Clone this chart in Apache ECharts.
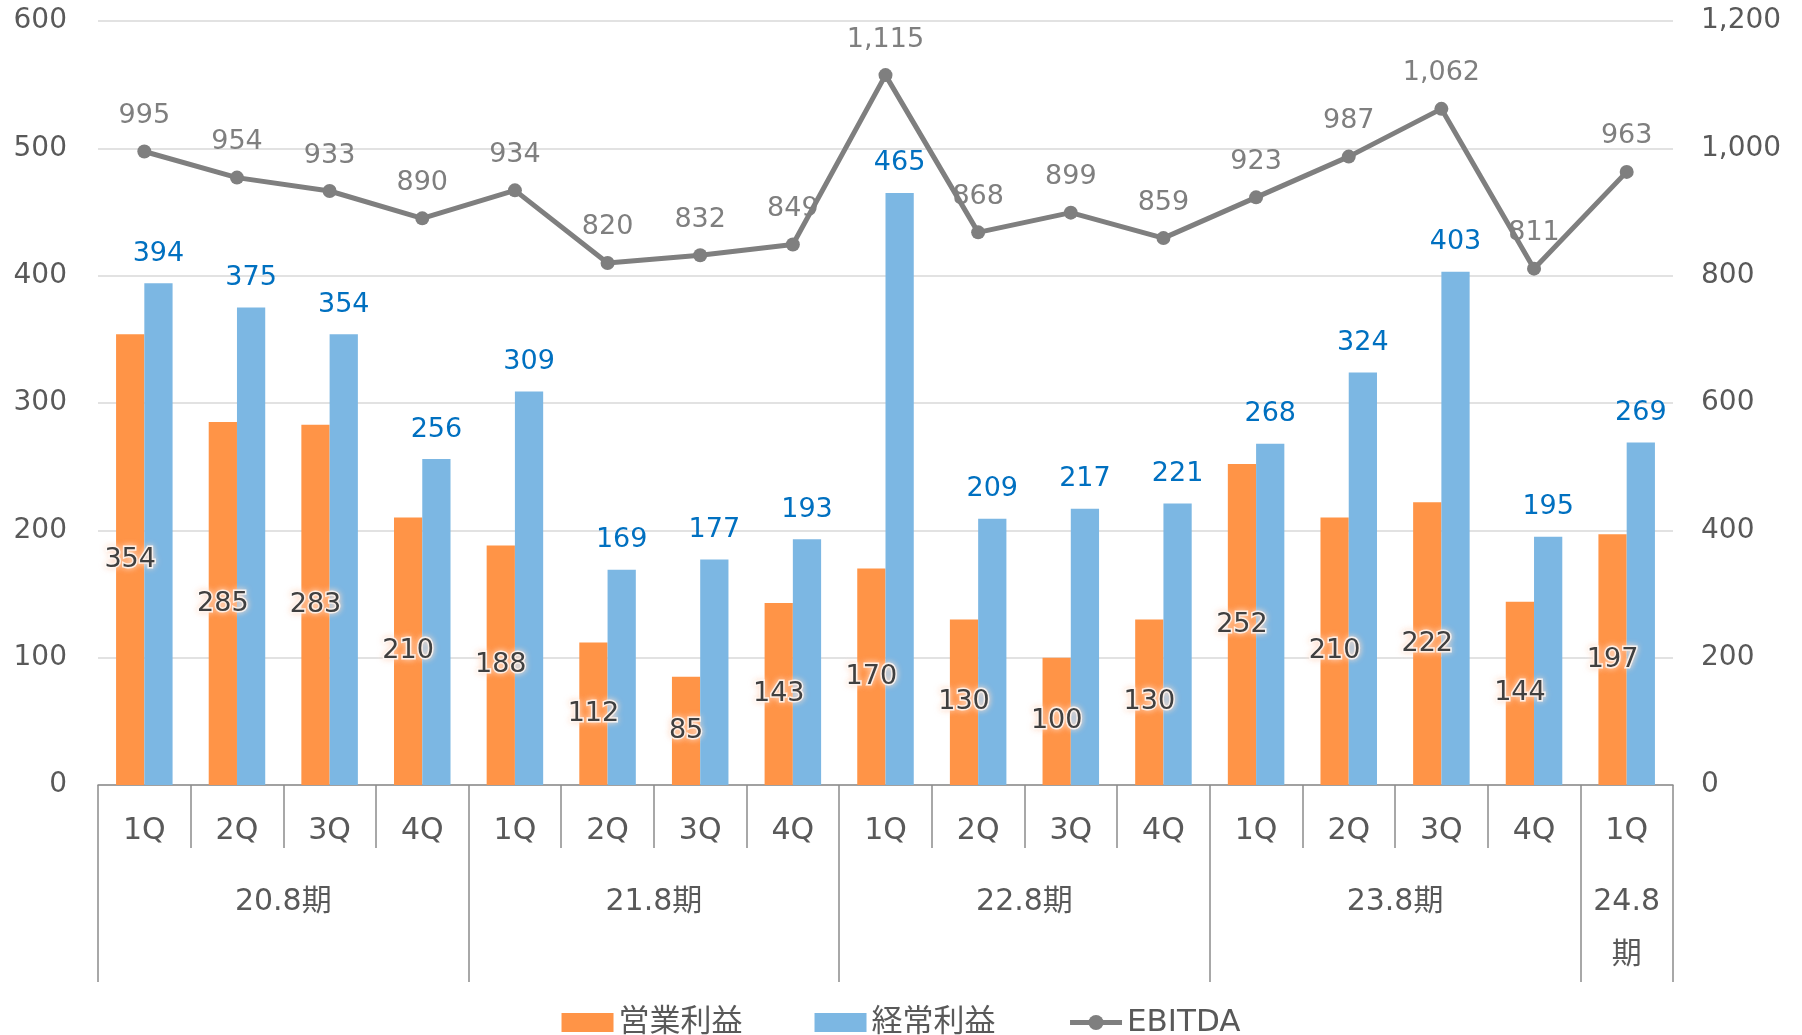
<!DOCTYPE html>
<html>
<head>
<meta charset="utf-8">
<script src="https://cdn.jsdelivr.net/npm/echarts@6/dist/echarts.min.js"></script>
<style>
html,body{margin:0;padding:0;background:#fff;}
#c{width:1802px;height:1035px;}
</style>
</head>
<body>
<div id="c"></div>
<script>
const quarters = ['1Q','2Q','3Q','4Q','1Q','2Q','3Q','4Q','1Q','2Q','3Q','4Q','1Q','2Q','3Q','4Q','1Q'];
const groupNames = ['20.8期','21.8期','22.8期','23.8期','24.8期'];
const groupSizes = [4,4,4,4,1];
const operatingProfit = [354,285,283,210,188,112,85,143,170,130,100,130,252,210,222,144,197];
const ordinaryProfit = [394,375,354,256,309,169,177,193,465,209,217,221,268,324,403,195,269];
const ebitda = [995,954,933,890,934,820,832,849,1115,868,899,859,923,987,1062,811,963];
const leftTicks = {min:0, max:600, interval:100};
const rightTicks = {min:0, max:1200, interval:200};

const FONT = "'DejaVu Sans', 'Noto Sans CJK JP', sans-serif";
const fmt = v => String(v).replace(/\B(?=(\d{3})+(?!\d))/g, ',');

// group boundaries & centres derived from group sizes
const boundaries = [];
const centres = {};
let acc = 0;
groupSizes.forEach((n, i) => {
  boundaries.push(acc);
  centres[acc + n / 2] = n === 1 ? groupNames[i].replace('期', '\n期') : groupNames[i];
  acc += n;
});

const chart = echarts.init(document.getElementById('c'), null, {renderer:'canvas'});
const axisGray = '#8c8c8c';
chart.setOption({
  animation: false,
  textStyle: {fontFamily: FONT},
  grid: {left: 98, right: 129, top: 21, bottom: 250, containLabel: false},
  legend: {
    top: 1002, left: 'center',
    itemWidth: 52, itemHeight: 19, itemGap: 72,
    textStyle: {fontSize: 31, color: '#595959', fontFamily: FONT},
    data: [
      {name: '営業利益', icon: 'rect'},
      {name: '経常利益', icon: 'rect'},
      {name: 'EBITDA', lineStyle: {width: 5}, itemStyle: {color: '#7f7f7f'}}
    ]
  },
  xAxis: [
    {
      type: 'category', data: quarters, position: 'bottom', boundaryGap: true,
      axisLine: {onZero: false, lineStyle: {color: axisGray, width: 1.5}},
      axisTick: {show: true, interval: 0, length: 63, lineStyle: {color: axisGray, width: 1.5}},
      axisLabel: {interval: 0, margin: 31, fontSize: 30, color: '#595959', fontFamily: FONT}
    },
    {
      type: 'category', data: quarters, position: 'bottom', boundaryGap: true,
      axisLine: {show: false},
      axisTick: {show: true, interval: (i) => boundaries.indexOf(i) >= 0, length: 197, lineStyle: {color: axisGray, width: 1.5}},
      axisLabel: {show: false}
    },
    {
      type: 'value', min: 0, max: quarters.length, interval: 0.5, position: 'bottom',
      axisLine: {show: false}, axisTick: {show: false}, splitLine: {show: false},
      axisLabel: {
        margin: 91, fontSize: 30, lineHeight: 53, color: '#595959', fontFamily: FONT,
        formatter: v => centres[v] || ''
      }
    }
  ],
  yAxis: [
    {
      type: 'value', min: leftTicks.min, max: leftTicks.max, interval: leftTicks.interval,
      axisLine: {show: false}, axisTick: {show: false},
      splitLine: {lineStyle: {color: '#d9d9d9', width: 1.5}},
      axisLabel: {margin: 31, fontSize: 28, color: '#595959', fontFamily: FONT}
    },
    {
      type: 'value', min: rightTicks.min, max: rightTicks.max, interval: rightTicks.interval, position: 'right',
      axisLine: {show: false}, axisTick: {show: false}, splitLine: {show: false},
      axisLabel: {margin: 28, fontSize: 28, color: '#595959', fontFamily: FONT, formatter: v => fmt(v)}
    }
  ],
  series: [
    {
      name: '営業利益', type: 'bar', xAxisIndex: 0, yAxisIndex: 0,
      data: operatingProfit, barGap: '0%', barCategoryGap: '39%',
      itemStyle: {color: '#ff9447'},
      label: {
        show: true, position: 'inside', fontSize: 27, color: '#404040', fontFamily: FONT,
        textBorderColor: 'rgba(255,255,255,0.85)', textBorderWidth: 3,
        textShadowColor: 'rgba(255,220,200,0.9)', textShadowBlur: 6
      },
      z: 2
    },
    {
      name: '経常利益', type: 'bar', xAxisIndex: 0, yAxisIndex: 0,
      data: ordinaryProfit, barGap: '0%', barCategoryGap: '39%',
      itemStyle: {color: '#7cb7e3'},
      label: {show: true, position: 'top', distance: 16, fontSize: 27, color: '#0070c0', fontFamily: FONT},
      z: 2
    },
    {
      name: 'EBITDA', type: 'line', xAxisIndex: 0, yAxisIndex: 1,
      data: ebitda, symbol: 'circle', symbolSize: 14,
      lineStyle: {color: '#7f7f7f', width: 5},
      itemStyle: {color: '#7f7f7f'},
      label: {show: true, position: 'top', distance: 15, fontSize: 27, color: '#7f7f7f', fontFamily: FONT, formatter: p => fmt(p.value)},
      z: 5
    }
  ]
});
</script>
</body>
</html>
